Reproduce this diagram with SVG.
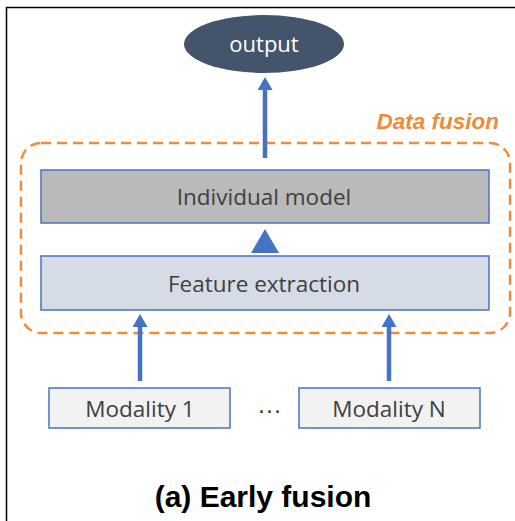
<svg xmlns="http://www.w3.org/2000/svg" width="515" height="521" viewBox="0 0 515 521">
  <defs>
    <marker id="arrowhead" viewBox="0 0 13 15" refX="3" refY="7.5" markerWidth="13" markerHeight="15" markerUnits="userSpaceOnUse" orient="auto">
      <path d="M0,0 L13,7.5 L0,15 z" fill="#4472c4"/>
    </marker>
    <style>
      .lbl { font-family: "Open Sans", "Noto Sans", "DejaVu Sans", sans-serif; fill: #404040; text-anchor: middle; }
      .box { stroke: #4a72c0; stroke-width: 1.5; }
      .flow { stroke: #4472c4; stroke-width: 4.5; fill: none; marker-end: url(#arrowhead); }
    </style>
  </defs>

  <rect width="515" height="521" fill="#ffffff"/>
  <!-- outer frame -->
  <path d="M6.5,521 V7.5 H515" fill="none" stroke="#000" stroke-width="1.5"/>

  <!-- fusion region -->
  <g id="data-fusion">
    <rect x="21" y="143" width="489" height="190" rx="20" ry="20" fill="none" stroke="#f08a3c" stroke-width="2.5" stroke-dasharray="10,6"/>
    <text x="499" y="129" text-anchor="end" font-family="Liberation Sans, Arial, sans-serif" font-weight="bold" font-style="italic" font-size="22.5" fill="#f08a3c">Data fusion</text>
  </g>

  <!-- connectors -->
  <g id="connectors">
    <line class="flow" x1="265" y1="158" x2="265" y2="87"/>
    <line class="flow" x1="140" y1="381" x2="140" y2="324"/>
    <line class="flow" x1="389" y1="381" x2="389" y2="324"/>
    <polygon points="251,253 279,253 265,229" fill="#4472c4"/>
  </g>

  <g id="output">
    <ellipse cx="264" cy="44" rx="80" ry="29" fill="#44546a"/>
    <text x="264" y="52" font-family="Open Sans, Noto Sans, sans-serif" font-size="22" fill="#ffffff" text-anchor="middle">output</text>
  </g>

  <g id="individual-model">
    <rect class="box" x="41" y="170" width="448" height="53" fill="#bababa"/>
    <text class="lbl" x="264" y="205" font-size="22.5">Individual model</text>
  </g>

  <g id="feature-extraction">
    <rect class="box" x="41" y="256" width="448" height="54" fill="#d6dce5"/>
    <text class="lbl" x="264" y="292" font-size="22.5">Feature extraction</text>
  </g>

  <g id="modality-1">
    <rect class="box" x="49" y="388" width="181" height="40" fill="#f2f2f2"/>
    <text class="lbl" x="140" y="417" font-size="22.5">Modality 1</text>
  </g>

  <g id="ellipsis">
    <text x="270" y="419" text-anchor="middle" font-family="DejaVu Sans, sans-serif" font-size="22" fill="#333" letter-spacing="1">···</text>
  </g>

  <g id="modality-n">
    <rect class="box" x="299" y="388" width="181" height="40" fill="#f2f2f2"/>
    <text class="lbl" x="389" y="417" font-size="22.5">Modality N</text>
  </g>

  <g id="caption">
    <text x="263" y="507" text-anchor="middle" font-family="Liberation Sans, Arial, sans-serif" font-weight="bold" font-size="30" fill="#000">(a) Early fusion</text>
  </g>
</svg>
